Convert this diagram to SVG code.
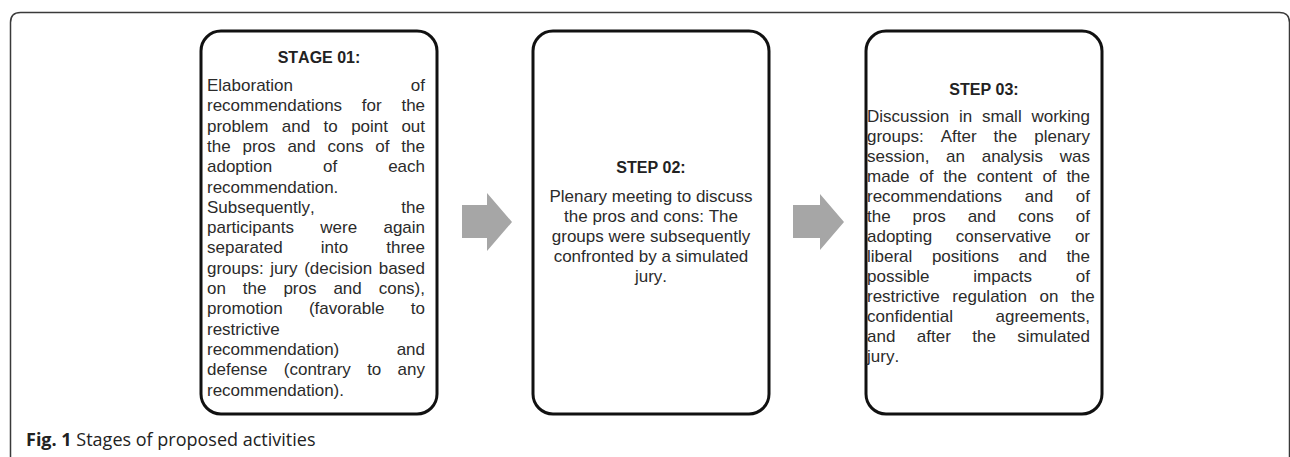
<svg xmlns="http://www.w3.org/2000/svg" width="1290" height="457" viewBox="0 0 1290 457">
<defs>
<style>
.frame{fill:none;stroke:#3a3a3a;stroke-width:1.5}
.box{fill:#fff;stroke:#111;stroke-width:3}
.arrow{fill:#a6a6a6}
.hd{font-family:"Liberation Sans",Arial,sans-serif;font-weight:bold;font-size:16px;fill:#222;text-anchor:middle;font-kerning:none}
.tx{font-family:"Liberation Sans",Arial,sans-serif;font-size:17px;fill:#2b2b2b;font-kerning:none}
.ct{text-anchor:middle}
.cap{font-family:"Open Sans","Noto Sans",sans-serif;font-size:18px;fill:#222}
</style>
</defs>
<rect width="1290" height="457" fill="#fff"/>
<path class="frame" d="M10.5,457 V22.5 Q10.5,12.5 20.5,12.5 H1279.5 Q1289.5,12.5 1289.5,22.5 V457"/>

<g id="connectors">
<polygon class="arrow" points="462,205 487,205 487,193 512,222 487,251 487,238 462,238"/>
<polygon class="arrow" points="793,205 820,205 820,194 844,222 820,250 820,238 793,238"/>
</g>

<g id="stage01">
<rect class="box" x="201" y="31" width="236" height="383" rx="20"/>
<text class="hd" x="319" y="63">STAGE 01:</text>
<text class="tx" x="207" y="91" style="word-spacing:113.1px">Elaboration of</text>
<text class="tx" x="207" y="111.3" style="word-spacing:15px">recommendations for the</text>
<text class="tx" x="207" y="131.6" style="word-spacing:8.67px">problem and to point out</text>
<text class="tx" x="207" y="151.9" style="word-spacing:7.12px">the pros and cons of the</text>
<text class="tx" x="207" y="172.2" style="word-spacing:46.15px">adoption of each</text>
<text class="tx" x="207" y="192.5">recommendation.</text>
<text class="tx" x="207" y="212.8" style="word-spacing:81.9px">Subsequently, the</text>
<text class="tx" x="207" y="233.1" style="word-spacing:21.6px">participants were again</text>
<text class="tx" x="207" y="253.4" style="word-spacing:33.4px">separated into three</text>
<text class="tx" x="207" y="273.7" style="word-spacing:1.8px">groups: jury (decision based</text>
<text class="tx" x="207" y="294" style="word-spacing:12.21px">on the pros and cons),</text>
<text class="tx" x="207" y="314.3" style="word-spacing:21.6px">promotion (favorable to</text>
<text class="tx" x="207" y="334.6">restrictive</text>
<text class="tx" x="207" y="354.9" style="word-spacing:52.65px">recommendation) and</text>
<text class="tx" x="207" y="375.2" style="word-spacing:11.56px">defense (contrary to any</text>
<text class="tx" x="207" y="395.5">recommendation).</text>
</g>

<g id="step02">
<rect class="box" x="533" y="31" width="236" height="383" rx="20"/>
<text class="hd" x="651" y="173">STEP 02:</text>
<text class="tx ct" x="651" y="202">Plenary meeting to discuss</text>
<text class="tx ct" x="651" y="222">the pros and cons: The</text>
<text class="tx ct" x="651" y="242">groups were subsequently</text>
<text class="tx ct" x="651" y="262">confronted by a simulated</text>
<text class="tx ct" x="651" y="282">jury.</text>
</g>

<g id="step03">
<rect class="box" x="866" y="31" width="236" height="383" rx="20"/>
<text class="hd" x="984" y="95">STEP 03:</text>
<text class="tx" x="867" y="122" style="word-spacing:5.06px">Discussion in small working</text>
<text class="tx" x="867" y="142" style="word-spacing:12.28px">groups: After the plenary</text>
<text class="tx" x="867" y="162" style="word-spacing:11.98px">session, an analysis was</text>
<text class="tx" x="867" y="182" style="word-spacing:5.1px">made of the content of the</text>
<text class="tx" x="867" y="202" style="word-spacing:17.96px">recommendations and of</text>
<text class="tx" x="867" y="222" style="word-spacing:17.24px">the pros and cons of</text>
<text class="tx" x="867" y="242" style="word-spacing:18.9px">adopting conservative or</text>
<text class="tx" x="867" y="262" style="word-spacing:14.8px">liberal positions and the</text>
<text class="tx" x="867" y="282" style="word-spacing:39.22px">possible impacts of</text>
<text class="tx" x="867" y="302" style="word-spacing:7.88px">restrictive regulation on the</text>
<text class="tx" x="867" y="322" style="word-spacing:37.8px">confidential agreements,</text>
<text class="tx" x="867" y="342" style="word-spacing:16.69px">and after the simulated</text>
<text class="tx" x="867" y="362">jury.</text>
</g>

<text class="cap" x="26" y="446"><tspan font-weight="bold">Fig. 1</tspan> Stages of proposed activities</text>
</svg>
